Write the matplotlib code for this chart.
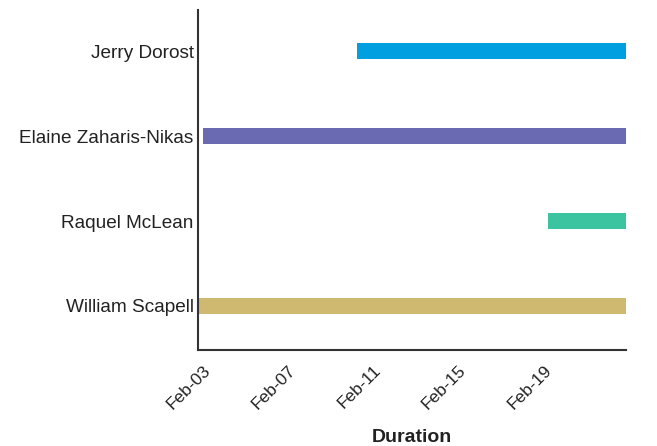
import matplotlib.pyplot as plt
import matplotlib.dates as mdates
import pandas as pd

plt.rcParams["font.family"] = ["Liberation Sans", "DejaVu Sans"]

names = ["Jerry Dorost", "Elaine Zaharis-Nikas", "Raquel McLean", "William Scapell"]
starts = ["2024-02-10 06:00", "2024-02-03 00:00", "2024-02-19 04:30", "2024-02-02 18:00"]
ends = ["2024-02-22 21:00", "2024-02-22 21:00", "2024-02-22 21:00", "2024-02-22 21:00"]
colors = ["#00a0e0", "#6a6ab2", "#3cc4a0", "#cfb870"]

start_dt = pd.to_datetime(starts)
end_dt = pd.to_datetime(ends)
x0 = mdates.date2num(start_dt)
widths = mdates.date2num(end_dt) - x0
ypos = list(range(len(names)))[::-1]

fig = plt.figure(figsize=(6.57, 4.46), dpi=100, facecolor="white")
ax = fig.add_axes([0.301, 0.215, 0.652, 0.763])

ax.barh(ypos, widths, left=x0, height=0.19, color=colors, edgecolor="none")

ax.set_yticks(ypos)
ax.set_yticklabels(names, fontsize=13.7, color="#222222")
ax.set_ylim(-0.52, 3.49)
ax.set_xlim(x0.min(), (x0 + widths).max())

ticks = pd.to_datetime(["2024-02-03", "2024-02-07", "2024-02-11", "2024-02-15", "2024-02-19"])
ax.set_xticks(mdates.date2num(ticks))
ax.xaxis.set_major_formatter(mdates.DateFormatter("%b-%d"))
for lbl in ax.get_xticklabels():
    lbl.set_rotation(45)
    lbl.set_ha("right")
    lbl.set_rotation_mode("anchor")
    lbl.set_fontsize(12.5)
    lbl.set_color("#222222")

ax.tick_params(axis="y", length=0, pad=3)
ax.tick_params(axis="x", length=0, pad=9)
ax.set_xlabel("Duration", fontsize=14, fontweight="bold", color="#222222", labelpad=12)

for side in ["top", "right"]:
    ax.spines[side].set_visible(False)
for side in ["left", "bottom"]:
    ax.spines[side].set_linewidth(1.5)
    ax.spines[side].set_color("#333333")

fig.savefig("out.png", dpi=100)
